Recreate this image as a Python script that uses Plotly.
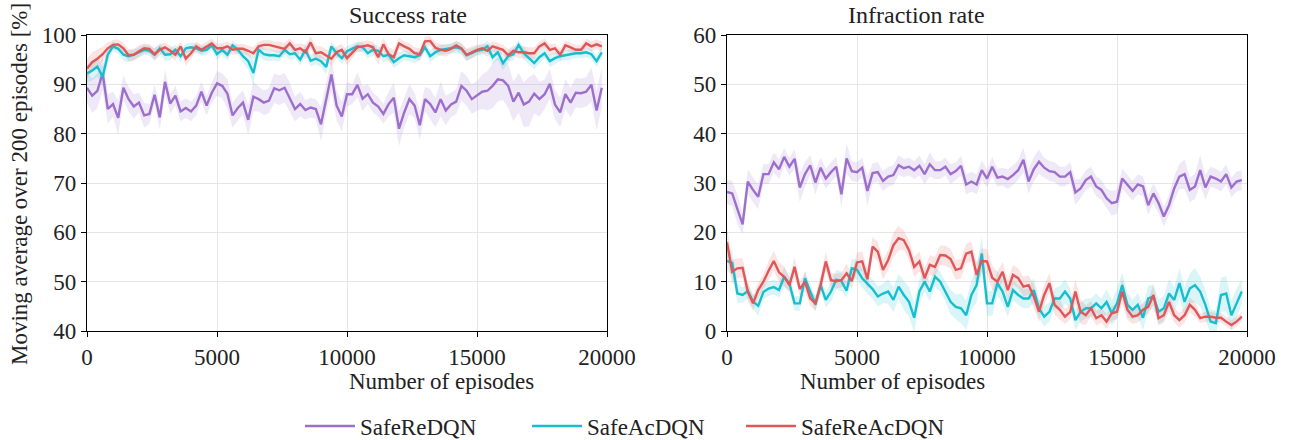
import plotly.graph_objects as go

# Evaluation checkpoints: one every 200 episodes
episodes = list(range(0, 20000, 200))

series_names = ["SafeReDQN", "SafeAcDQN", "SafeReAcDQN"]
series_colors = ["#9d6fcc", "#17becf", "#e05759"]
band_colors = ["rgba(157,111,204,0.16)", "rgba(23,190,207,0.16)", "rgba(224,87,89,0.16)"]

# ---- Success rate [%] (mean over seeds) ----
success_redqn = [
    89.3, 87.7, 88.7, 92.3, 85.0, 86.0, 83.2, 89.3, 87.0, 85.5,
    86.3, 83.7, 84.0, 87.9, 83.3, 90.5, 86.1, 87.7, 84.5, 85.2,
    84.5, 85.7, 88.5, 85.7, 88.3, 90.2, 89.7, 88.1, 83.7, 85.2,
    86.3, 82.8, 87.5, 87.0, 86.3, 86.7, 89.2, 88.8, 89.3, 87.3,
    85.0, 86.0, 84.8, 85.3, 85.0, 81.9, 87.3, 92.0, 85.7, 83.5,
    88.0, 88.0, 89.9, 87.1, 88.0, 86.3, 85.5, 84.0, 86.0, 87.3,
    81.0, 84.3, 87.0, 85.7, 81.7, 87.0, 86.0, 84.3, 87.0, 84.7,
    85.9, 86.5, 89.7, 88.7, 87.0, 87.7, 88.5, 88.7, 89.7, 91.0,
    90.8, 89.7, 86.5, 88.3, 85.9, 86.5, 88.1, 87.0, 88.0, 90.1,
    85.9, 84.3, 88.0, 86.3, 88.3, 88.2, 88.5, 89.9, 84.7, 89.3,
]
success_acdqn = [
    92.2, 92.8, 93.6, 91.5, 96.0, 97.7, 97.2, 96.0, 95.7, 96.0,
    96.5, 97.0, 96.8, 96.0, 97.3, 96.0, 96.1, 97.0, 95.7, 97.3,
    97.5, 97.3, 96.8, 97.0, 97.9, 96.1, 97.0, 96.0, 97.9, 97.0,
    95.7, 94.7, 92.3, 97.0, 96.1, 95.9, 95.9, 95.7, 97.0, 96.1,
    96.3, 95.0, 97.0, 94.8, 95.2, 94.7, 93.5, 97.7, 96.3, 95.3,
    96.7, 97.2, 97.7, 97.5, 96.3, 97.0, 96.8, 95.7, 96.0, 94.5,
    95.3, 95.9, 95.7, 95.5, 95.9, 97.5, 95.7, 96.5, 97.0, 97.2,
    97.3, 97.5, 97.2, 95.9, 96.3, 96.8, 97.0, 97.7, 95.5, 96.5,
    94.3, 95.7, 96.1, 98.0, 96.3, 95.2, 94.3, 95.5, 96.3, 94.7,
    95.3, 95.7, 95.9, 96.0, 96.3, 96.3, 96.5, 96.1, 94.7, 96.5,
]
success_reacdqn = [
    93.2, 94.5, 95.2, 96.1, 97.3, 98.0, 98.1, 97.3, 95.9, 96.0,
    96.7, 97.3, 97.2, 96.1, 97.0, 97.5, 96.8, 96.0, 97.7, 95.2,
    96.3, 97.7, 97.0, 97.7, 98.3, 97.3, 97.3, 97.7, 97.0, 97.2,
    97.2, 96.8, 96.3, 97.7, 98.0, 98.0, 97.7, 97.5, 97.2, 98.3,
    97.0, 97.3, 96.5, 98.5, 96.3, 96.5, 95.9, 95.2, 96.5, 97.0,
    95.3, 96.5, 97.5, 97.7, 97.9, 97.5, 95.5, 98.1, 96.1, 95.5,
    98.3, 97.7, 97.2, 96.3, 96.1, 98.7, 98.8, 97.4, 97.0, 96.8,
    97.2, 97.9, 97.3, 96.0, 96.5, 97.0, 97.3, 96.8, 97.7, 97.3,
    97.0, 95.9, 96.8, 96.5, 96.5, 96.3, 96.3, 97.7, 98.3, 97.0,
    97.3, 96.0, 97.9, 97.5, 97.0, 97.0, 98.3, 97.7, 98.1, 97.7,
]

# Spread across seeds (half-width of the shaded band)
success_redqn_sd = [
    3.0, 3.5, 3.5, 3.5, 3.0, 2.5, 3.5, 2.5, 2.5, 2.5,
    2.0, 2.5, 2.0, 2.0, 2.5, 2.5, 2.0, 2.0, 2.0, 2.0,
    2.0, 2.0, 2.0, 2.0, 2.0, 2.5, 2.5, 3.0, 2.5, 2.5,
    2.5, 3.0, 3.0, 2.5, 2.5, 2.5, 3.0, 3.0, 3.0, 3.0,
    2.5, 2.5, 2.0, 2.0, 2.0, 3.5, 3.0, 3.5, 3.0, 3.0,
    2.5, 2.0, 2.5, 2.5, 2.0, 2.0, 2.0, 2.0, 2.5, 3.0,
    3.5, 3.0, 3.0, 2.5, 3.0, 2.5, 3.0, 3.0, 3.5, 3.0,
    2.5, 2.5, 3.0, 3.0, 3.0, 3.0, 3.5, 4.0, 4.5, 4.5,
    4.0, 4.5, 4.0, 4.0, 4.5, 5.0, 4.0, 3.5, 3.0, 3.0,
    3.0, 3.0, 3.0, 3.0, 3.0, 3.0, 3.0, 3.5, 4.0, 4.0,
]
success_acdqn_sd = [
    1.8, 2.0, 2.0, 2.0, 1.5, 1.0, 1.0, 1.2, 1.2, 1.0,
    1.0, 1.0, 1.0, 1.2, 1.0, 1.2, 1.2, 1.0, 1.2, 1.0,
    1.0, 1.0, 1.0, 1.0, 1.0, 1.2, 1.0, 1.2, 1.0, 1.0,
    1.2, 1.8, 2.5, 1.2, 1.2, 1.2, 1.0, 1.0, 1.0, 1.2,
    1.0, 1.2, 1.0, 1.2, 1.2, 1.2, 1.5, 1.0, 1.0, 1.2,
    1.0, 1.0, 1.0, 1.0, 1.0, 1.2, 1.0, 1.2, 1.0, 1.2,
    1.2, 1.0, 1.0, 1.2, 1.0, 1.0, 1.2, 1.2, 1.0, 1.0,
    1.0, 1.2, 1.2, 1.2, 1.0, 1.0, 1.0, 1.2, 1.5, 1.5,
    1.5, 1.2, 1.2, 1.0, 1.2, 1.2, 1.2, 1.2, 1.0, 1.2,
    1.2, 1.0, 1.0, 1.0, 1.0, 1.0, 1.0, 1.0, 1.2, 1.2,
]
success_reacdqn_sd = [
    2.0, 2.0, 1.8, 1.5, 1.2, 1.0, 1.0, 1.2, 1.2, 1.2,
    1.2, 1.0, 1.0, 1.2, 1.2, 1.0, 1.0, 1.2, 1.0, 1.5,
    1.2, 1.0, 1.0, 1.0, 1.0, 1.0, 1.0, 1.0, 1.0, 1.0,
    1.0, 1.0, 1.2, 1.0, 1.0, 1.0, 1.0, 1.2, 1.2, 1.0,
    1.2, 1.0, 1.5, 1.2, 1.5, 1.2, 1.2, 1.5, 1.2, 1.2,
    1.5, 1.2, 1.0, 1.0, 1.0, 1.2, 1.5, 1.2, 1.5, 1.5,
    1.2, 1.0, 1.2, 1.2, 1.2, 1.0, 1.0, 1.2, 1.2, 1.2,
    1.0, 1.0, 1.0, 1.2, 1.2, 1.0, 1.0, 1.2, 1.0, 1.2,
    1.0, 1.2, 1.0, 1.2, 1.2, 1.2, 1.2, 1.0, 1.0, 1.2,
    1.0, 1.2, 1.0, 1.0, 1.0, 1.0, 1.0, 1.0, 1.0, 1.0,
]

# ---- Infraction rate [%] (mean over seeds) ----
infraction_redqn = [
    28.2, 27.9, 24.7, 21.6, 30.3, 28.6, 27.2, 31.8, 31.8, 34.2,
    32.8, 35.3, 33.3, 34.9, 29.1, 31.8, 33.6, 30.1, 33.1, 30.9,
    32.2, 33.3, 27.7, 35.0, 32.4, 32.2, 33.1, 28.4, 32.0, 32.2,
    30.4, 31.3, 31.6, 33.6, 33.0, 33.3, 32.6, 33.5, 31.8, 33.8,
    32.6, 32.6, 33.3, 31.8, 32.4, 33.5, 29.7, 30.3, 29.7, 32.6,
    30.9, 33.3, 31.1, 31.3, 30.8, 31.6, 32.6, 34.7, 30.3, 32.8,
    34.3, 33.1, 32.4, 32.2, 31.3, 31.3, 32.2, 28.1, 28.9, 30.6,
    31.3, 29.3, 28.6, 26.9, 25.9, 26.2, 30.9, 29.7, 28.4, 29.7,
    29.3, 25.5, 27.9, 25.9, 23.2, 25.5, 28.9, 31.3, 31.8, 28.6,
    29.3, 32.6, 29.1, 31.3, 30.9, 30.3, 31.8, 29.1, 30.3, 30.6,
]
infraction_acdqn = [
    14.2, 13.8, 7.6, 7.3, 8.1, 6.0, 5.1, 7.9, 8.6, 8.9,
    8.3, 11.0, 9.6, 5.6, 5.6, 10.7, 8.0, 5.4, 9.3, 6.3,
    8.0, 10.4, 10.1, 8.2, 12.7, 12.4, 10.7, 9.5, 8.5, 7.0,
    7.6, 8.0, 6.3, 9.0, 7.3, 5.9, 2.7, 8.0, 10.0, 8.0,
    11.0, 10.0, 8.0, 5.9, 4.9, 4.6, 3.2, 7.3, 9.3, 15.7,
    5.6, 5.6, 9.7, 8.0, 4.9, 8.3, 7.3, 6.6, 6.6, 8.3,
    4.6, 2.9, 3.9, 6.6, 6.6, 8.0, 6.6, 2.2, 3.9, 4.6,
    4.6, 5.6, 4.6, 5.9, 3.6, 5.6, 9.3, 5.3, 4.3, 5.3,
    2.7, 6.6, 7.0, 3.9, 4.6, 7.6, 6.3, 9.7, 5.9, 8.6,
    9.3, 8.0, 5.3, 1.9, 1.6, 7.3, 7.6, 3.2, 5.6, 8.0,
]
infraction_reacdqn = [
    18.0, 12.0, 12.7, 12.8, 8.0, 5.6, 8.3, 10.0, 12.2, 14.2,
    11.9, 11.0, 9.3, 13.0, 8.5, 10.0, 6.6, 5.6, 9.3, 14.1,
    10.3, 10.1, 10.3, 11.7, 10.1, 13.9, 14.1, 10.5, 17.1, 16.1,
    12.4, 14.4, 17.4, 18.8, 18.4, 16.4, 13.0, 14.1, 10.7, 13.4,
    13.0, 15.4, 15.3, 14.6, 12.4, 12.7, 15.7, 16.1, 11.4, 14.2,
    14.1, 10.8, 10.0, 12.0, 8.3, 11.4, 10.7, 9.0, 9.3, 7.0,
    3.9, 7.3, 9.7, 5.3, 4.3, 2.9, 3.9, 8.0, 3.9, 3.2,
    4.6, 2.6, 3.2, 1.9, 3.6, 3.9, 8.0, 4.3, 2.9, 3.2,
    4.3, 4.9, 7.3, 2.6, 3.2, 5.9, 3.2, 2.2, 3.2, 5.3,
    4.3, 2.6, 2.9, 2.9, 2.7, 2.7, 1.9, 1.2, 1.9, 2.9,
]

infraction_redqn_sd = [
    2.5, 2.5, 3.0, 2.0, 2.5, 2.5, 2.5, 2.0, 2.0, 2.0,
    2.0, 1.8, 1.8, 2.0, 3.0, 2.5, 2.0, 2.5, 2.0, 2.0,
    2.0, 2.0, 2.5, 3.0, 2.0, 2.0, 2.0, 3.0, 2.0, 2.0,
    2.0, 2.0, 2.0, 2.0, 1.8, 1.8, 1.8, 2.0, 2.0, 2.5,
    1.8, 1.8, 1.8, 2.0, 1.8, 2.0, 2.0, 2.0, 2.0, 2.0,
    1.8, 2.0, 1.8, 1.8, 2.0, 2.0, 2.0, 2.5, 2.5, 2.5,
    2.5, 2.0, 2.0, 2.0, 2.0, 2.0, 2.0, 2.5, 2.0, 2.0,
    2.0, 2.0, 2.0, 2.0, 2.5, 2.5, 2.0, 2.0, 2.0, 2.0,
    2.0, 2.0, 2.0, 2.0, 2.0, 2.0, 2.5, 2.5, 3.0, 2.5,
    2.5, 3.0, 2.5, 2.0, 2.0, 2.0, 2.0, 2.0, 2.0, 2.0,
]
infraction_acdqn_sd = [
    2.0, 2.5, 2.0, 1.5, 1.5, 1.5, 2.0, 1.5, 1.5, 1.5,
    1.5, 2.0, 1.5, 1.5, 1.5, 1.5, 1.5, 1.5, 1.5, 1.5,
    2.0, 2.0, 2.0, 1.5, 2.0, 2.0, 2.0, 2.0, 2.0, 2.0,
    2.0, 2.5, 2.5, 2.5, 3.0, 3.0, 3.0, 2.5, 2.0, 2.0,
    2.0, 2.0, 2.0, 2.5, 2.5, 3.0, 3.0, 3.0, 3.5, 3.5,
    2.5, 2.5, 2.5, 2.5, 2.0, 2.0, 2.0, 2.0, 2.0, 2.5,
    2.0, 2.0, 2.0, 2.0, 2.5, 2.5, 2.0, 2.0, 2.0, 2.0,
    2.0, 2.0, 2.0, 2.5, 2.5, 3.0, 2.5, 2.5, 2.0, 2.5,
    2.5, 2.5, 2.5, 2.5, 2.5, 3.0, 2.5, 3.0, 3.0, 3.0,
    3.5, 3.0, 3.0, 2.5, 2.5, 3.5, 3.5, 3.0, 3.0, 2.5,
]
infraction_reacdqn_sd = [
    3.0, 2.5, 2.0, 2.0, 2.0, 1.5, 1.5, 1.5, 2.0, 2.0,
    2.0, 2.0, 1.5, 2.0, 1.5, 2.0, 1.5, 1.5, 2.0, 2.0,
    1.5, 1.5, 1.5, 2.0, 1.5, 2.0, 2.0, 2.0, 2.0, 2.0,
    2.0, 2.0, 2.5, 2.5, 2.0, 2.0, 2.0, 2.0, 2.0, 2.0,
    2.0, 2.0, 2.0, 2.0, 2.0, 2.0, 2.0, 2.0, 2.5, 2.5,
    2.5, 2.5, 2.0, 2.0, 2.0, 2.0, 2.0, 2.0, 2.0, 2.5,
    2.0, 2.0, 2.0, 2.0, 2.0, 1.5, 1.5, 2.5, 2.5, 2.0,
    1.5, 1.5, 1.5, 1.5, 1.5, 1.5, 2.5, 2.0, 1.5, 1.5,
    1.5, 1.5, 2.0, 1.5, 1.5, 2.0, 1.5, 1.5, 1.5, 1.5,
    1.5, 1.0, 1.0, 1.0, 1.0, 1.0, 1.0, 1.0, 1.0, 1.0,
]

success_means = [success_redqn, success_acdqn, success_reacdqn]
success_sds = [success_redqn_sd, success_acdqn_sd, success_reacdqn_sd]
infraction_means = [infraction_redqn, infraction_acdqn, infraction_reacdqn]
infraction_sds = [infraction_redqn_sd, infraction_acdqn_sd, infraction_reacdqn_sd]

x_ticks = [0, 5000, 10000, 15000, 20000]
x_tick_labels = ["0", "5000", "10000", "15000", "20000"]
success_ticks = [40, 50, 60, 70, 80, 90, 100]
infraction_ticks = [0, 10, 20, 30, 40, 50, 60]

FONT = "Liberation Serif"
FS = 23
TXT = "#222222"

# one legend box per method, laid out in a row under the panels
legend_ids = ["legend", "legend2", "legend3"]
legend_left_px = [300, 527, 741]

fig = go.Figure()


def add_panel(means, sds, xref, yref, show_legend):
    # shaded bands first, then mean curves on top
    for k in range(3):
        lo = [m - s for m, s in zip(means[k], sds[k])]
        hi = [m + s for m, s in zip(means[k], sds[k])]
        fig.add_trace(go.Scatter(
            x=episodes + episodes[::-1], y=hi + lo[::-1],
            fill="toself", fillcolor=band_colors[k], line=dict(width=0),
            mode="lines", hoverinfo="skip", showlegend=False,
            xaxis=xref, yaxis=yref,
        ))
    for k in range(3):
        fig.add_trace(go.Scatter(
            x=episodes, y=means[k], mode="lines",
            line=dict(color=series_colors[k], width=2.4),
            name=series_names[k], showlegend=show_legend,
            legend=legend_ids[k],
            xaxis=xref, yaxis=yref,
        ))


add_panel(success_means, success_sds, "x", "y", True)
add_panel(infraction_means, infraction_sds, "x2", "y2", False)

# Page and plot-area geometry (px)
W, H = 1290, 440
ML, MR, MT, MB = 87, 43, 35, 109
PW, PH = W - ML - MR, H - MT - MB


def px_x(px):
    return (px - ML) / PW


def px_y(py):
    return (H - MB - py) / PH


axis_common = dict(
    showline=True, linecolor="black", linewidth=1.3, mirror=True,
    ticks="outside", ticklen=5, tickwidth=1.2, tickcolor="black",
    showgrid=True, gridcolor="#e6e6e6", gridwidth=1, zeroline=False,
    automargin=False,
    tickfont=dict(family=FONT, size=FS, color=TXT),
)

legend_layout = {}
for lid, left in zip(legend_ids, legend_left_px):
    legend_layout[lid] = dict(
        orientation="h", xref="container", x=left / W, xanchor="left",
        yref="container", y=1 - 426 / H, yanchor="middle",
        font=dict(family=FONT, size=FS, color=TXT),
        itemwidth=50, bgcolor="rgba(0,0,0,0)",
    )

fig.update_layout(
    width=W, height=H,
    margin=dict(l=ML, r=MR, t=MT, b=MB, autoexpand=False),
    paper_bgcolor="white", plot_bgcolor="white",
    font=dict(family=FONT, size=FS, color=TXT),
    xaxis=dict(domain=[0, px_x(607)], range=[0, 20000], tickvals=x_ticks,
               ticktext=x_tick_labels, anchor="y", **axis_common),
    yaxis=dict(domain=[0, 1], range=[40, 100], tickvals=success_ticks,
               anchor="x", **axis_common),
    xaxis2=dict(domain=[px_x(727), 1], range=[0, 20000], tickvals=x_ticks,
                ticktext=x_tick_labels, anchor="y2", **axis_common),
    yaxis2=dict(domain=[0, 1], range=[0, 60], tickvals=infraction_ticks,
                anchor="x2", **axis_common),
    annotations=[
        dict(text="Success rate", x=px_x(347), y=px_y(15),
             xref="paper", yref="paper", showarrow=False, yanchor="middle",
             font=dict(family=FONT, size=24, color=TXT)),
        dict(text="Infraction rate", x=px_x(987), y=px_y(15),
             xref="paper", yref="paper", showarrow=False, yanchor="middle",
             font=dict(family=FONT, size=24, color=TXT)),
        dict(text="Number of episodes", x=px_x(347), y=px_y(381),
             xref="paper", yref="paper", showarrow=False, yanchor="middle",
             font=dict(family=FONT, size=FS, color=TXT)),
        dict(text="Number of episodes", x=px_x(987), y=px_y(381),
             xref="paper", yref="paper", showarrow=False, yanchor="middle",
             font=dict(family=FONT, size=FS, color=TXT)),
        dict(text="Moving average over 200 episodes [%]", x=px_x(19), y=px_y(184),
             xref="paper", yref="paper", showarrow=False, textangle=-90,
             xanchor="center", yanchor="middle",
             font=dict(family=FONT, size=FS, color=TXT)),
    ],
    **legend_layout,
)

fig.write_html("out.html")
